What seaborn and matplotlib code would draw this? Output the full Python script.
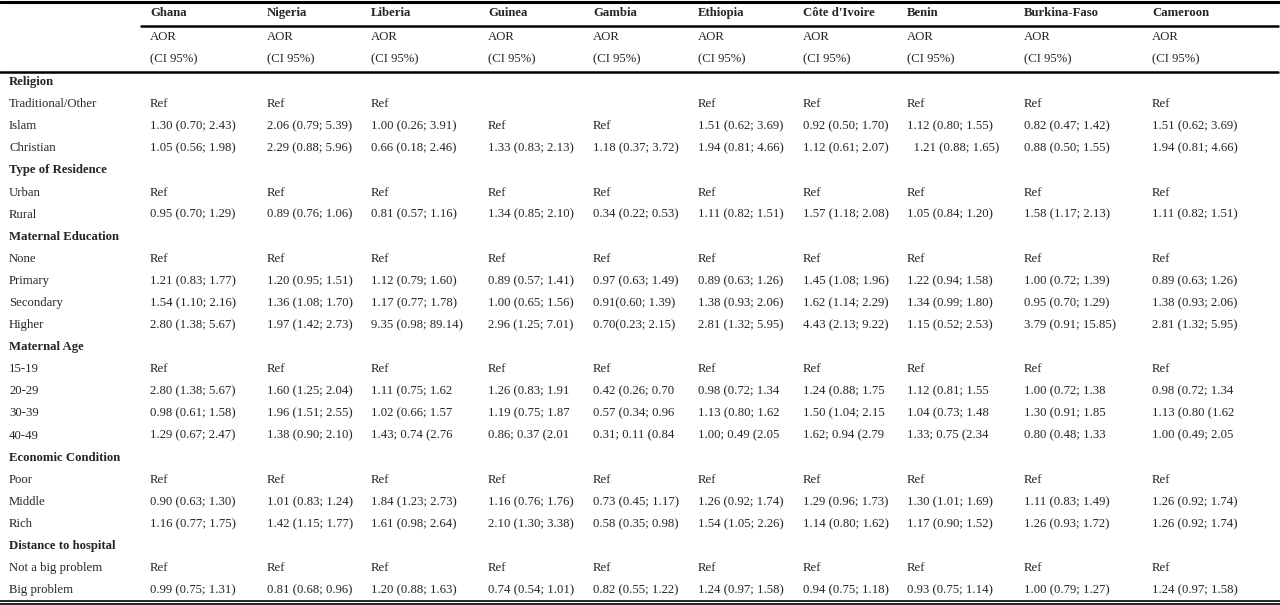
import matplotlib
matplotlib.use("Agg")
import matplotlib.pyplot as plt
import seaborn as sns

countries = ["Ghana", "Nigeria", "Liberia", "Guinea", "Gambia", "Ethiopia",
             "Côte d'Ivoire", "Benin", "Burkina-Faso", "Cameroon"]
col_x = [150, 267, 371, 488, 593, 698, 803, 907, 1024, 1152]

# (label, is_section, values per country)
religion = [
    ("Religion", True, None),
    ("Traditional/Other", False, ["Ref", "Ref", "Ref", "", "", "Ref", "Ref", "Ref", "Ref", "Ref"]),
    ("Islam", False, ["1.30 (0.70; 2.43)", "2.06 (0.79; 5.39)", "1.00 (0.26; 3.91)", "Ref", "Ref",
                      "1.51 (0.62; 3.69)", "0.92 (0.50; 1.70)", "1.12 (0.80; 1.55)", "0.82 (0.47; 1.42)", "1.51 (0.62; 3.69)"]),
    ("Christian", False, ["1.05 (0.56; 1.98)", "2.29 (0.88; 5.96)", "0.66 (0.18; 2.46)", "1.33 (0.83; 2.13)", "1.18 (0.37; 3.72)",
                          "1.94 (0.81; 4.66)", "1.12 (0.61; 2.07)", "  1.21 (0.88; 1.65)", "0.88 (0.50; 1.55)", "1.94 (0.81; 4.66)"]),
]
residence = [
    ("Type of Residence", True, None),
    ("Urban", False, ["Ref"] * 10),
    ("Rural", False, ["0.95 (0.70; 1.29)", "0.89 (0.76; 1.06)", "0.81 (0.57; 1.16)", "1.34 (0.85; 2.10)", "0.34 (0.22; 0.53)",
                      "1.11 (0.82; 1.51)", "1.57 (1.18; 2.08)", "1.05 (0.84; 1.20)", "1.58 (1.17; 2.13)", "1.11 (0.82; 1.51)"]),
]
education = [
    ("Maternal Education", True, None),
    ("None", False, ["Ref"] * 10),
    ("Primary", False, ["1.21 (0.83; 1.77)", "1.20 (0.95; 1.51)", "1.12 (0.79; 1.60)", "0.89 (0.57; 1.41)", "0.97 (0.63; 1.49)",
                        "0.89 (0.63; 1.26)", "1.45 (1.08; 1.96)", "1.22 (0.94; 1.58)", "1.00 (0.72; 1.39)", "0.89 (0.63; 1.26)"]),
    ("Secondary", False, ["1.54 (1.10; 2.16)", "1.36 (1.08; 1.70)", "1.17 (0.77; 1.78)", "1.00 (0.65; 1.56)", "0.91(0.60; 1.39)",
                          "1.38 (0.93; 2.06)", "1.62 (1.14; 2.29)", "1.34 (0.99; 1.80)", "0.95 (0.70; 1.29)", "1.38 (0.93; 2.06)"]),
    ("Higher", False, ["2.80 (1.38; 5.67)", "1.97 (1.42; 2.73)", "9.35 (0.98; 89.14)", "2.96 (1.25; 7.01)", "0.70(0.23; 2.15)",
                       "2.81 (1.32; 5.95)", "4.43 (2.13; 9.22)", "1.15 (0.52; 2.53)", "3.79 (0.91; 15.85)", "2.81 (1.32; 5.95)"]),
]
age = [
    ("Maternal Age", True, None),
    ("15-19", False, ["Ref"] * 10),
    ("20-29", False, ["2.80 (1.38; 5.67)", "1.60 (1.25; 2.04)", "1.11 (0.75; 1.62", "1.26 (0.83; 1.91", "0.42 (0.26; 0.70",
                      "0.98 (0.72; 1.34", "1.24 (0.88; 1.75", "1.12 (0.81; 1.55", "1.00 (0.72; 1.38", "0.98 (0.72; 1.34"]),
    ("30-39", False, ["0.98 (0.61; 1.58)", "1.96 (1.51; 2.55)", "1.02 (0.66; 1.57", "1.19 (0.75; 1.87", "0.57 (0.34; 0.96",
                      "1.13 (0.80; 1.62", "1.50 (1.04; 2.15", "1.04 (0.73; 1.48", "1.30 (0.91; 1.85", "1.13 (0.80 (1.62"]),
    ("40-49", False, ["1.29 (0.67; 2.47)", "1.38 (0.90; 2.10)", "1.43; 0.74 (2.76", "0.86; 0.37 (2.01", "0.31; 0.11 (0.84",
                      "1.00; 0.49 (2.05", "1.62; 0.94 (2.79", "1.33; 0.75 (2.34", "0.80 (0.48; 1.33", "1.00 (0.49; 2.05"]),
]
economic = [
    ("Economic Condition", True, None),
    ("Poor", False, ["Ref"] * 10),
    ("Middle", False, ["0.90 (0.63; 1.30)", "1.01 (0.83; 1.24)", "1.84 (1.23; 2.73)", "1.16 (0.76; 1.76)", "0.73 (0.45; 1.17)",
                       "1.26 (0.92; 1.74)", "1.29 (0.96; 1.73)", "1.30 (1.01; 1.69)", "1.11 (0.83; 1.49)", "1.26 (0.92; 1.74)"]),
    ("Rich", False, ["1.16 (0.77; 1.75)", "1.42 (1.15; 1.77)", "1.61 (0.98; 2.64)", "2.10 (1.30; 3.38)", "0.58 (0.35; 0.98)",
                     "1.54 (1.05; 2.26)", "1.14 (0.80; 1.62)", "1.17 (0.90; 1.52)", "1.26 (0.93; 1.72)", "1.26 (0.92; 1.74)"]),
]
distance = [
    ("Distance to hospital", True, None),
    ("Not a big problem", False, ["Ref"] * 10),
    ("Big problem", False, ["0.99 (0.75; 1.31)", "0.81 (0.68; 0.96)", "1.20 (0.88; 1.63)", "0.74 (0.54; 1.01)", "0.82 (0.55; 1.22)",
                            "1.24 (0.97; 1.58)", "0.94 (0.75; 1.18)", "0.93 (0.75; 1.14)", "1.00 (0.79; 1.27)", "1.24 (0.97; 1.58)"]),
]
rows = religion + residence + education + age + economic + distance

sns.set_theme(style="white")
plt.rcParams["font.family"] = ["Liberation Serif", "DejaVu Serif"]

fig = plt.figure(figsize=(12.8, 6.05), dpi=100)
ax = fig.add_axes([0, 0, 1, 1])
ax.set_xlim(0, 1280)
ax.set_ylim(605, 0)
ax.axis("off")

fs = 9.2
# header
for x, c in zip(col_x, countries):
    ax.text(x, 13, c, fontsize=fs, fontweight="bold", va="center", ha="left")
    ax.text(x, 37, "AOR", fontsize=fs, va="center", ha="left")
    ax.text(x, 59, "(CI 95%)", fontsize=fs, va="center", ha="left")

# rules
ax.plot([0, 1280], [2, 2], color="black", lw=2.2)
ax.plot([141, 1278], [26, 26], color="black", lw=1.8)
ax.plot([0, 1278], [72, 72], color="black", lw=1.8)
ax.plot([0, 1280], [601, 601], color="black", lw=1.2)
ax.plot([0, 1280], [604, 604], color="black", lw=1.2)

y0, step = 82, 22.1
for i, (label, section, vals) in enumerate(rows):
    y = y0 + i * step
    ax.text(9, y, label, fontsize=fs, fontweight="bold" if section else "normal", va="center", ha="left")
    if vals:
        for x, v in zip(col_x, vals):
            ax.text(x, y, v, fontsize=fs, va="center", ha="left")

fig.savefig("out.png", dpi=100)
